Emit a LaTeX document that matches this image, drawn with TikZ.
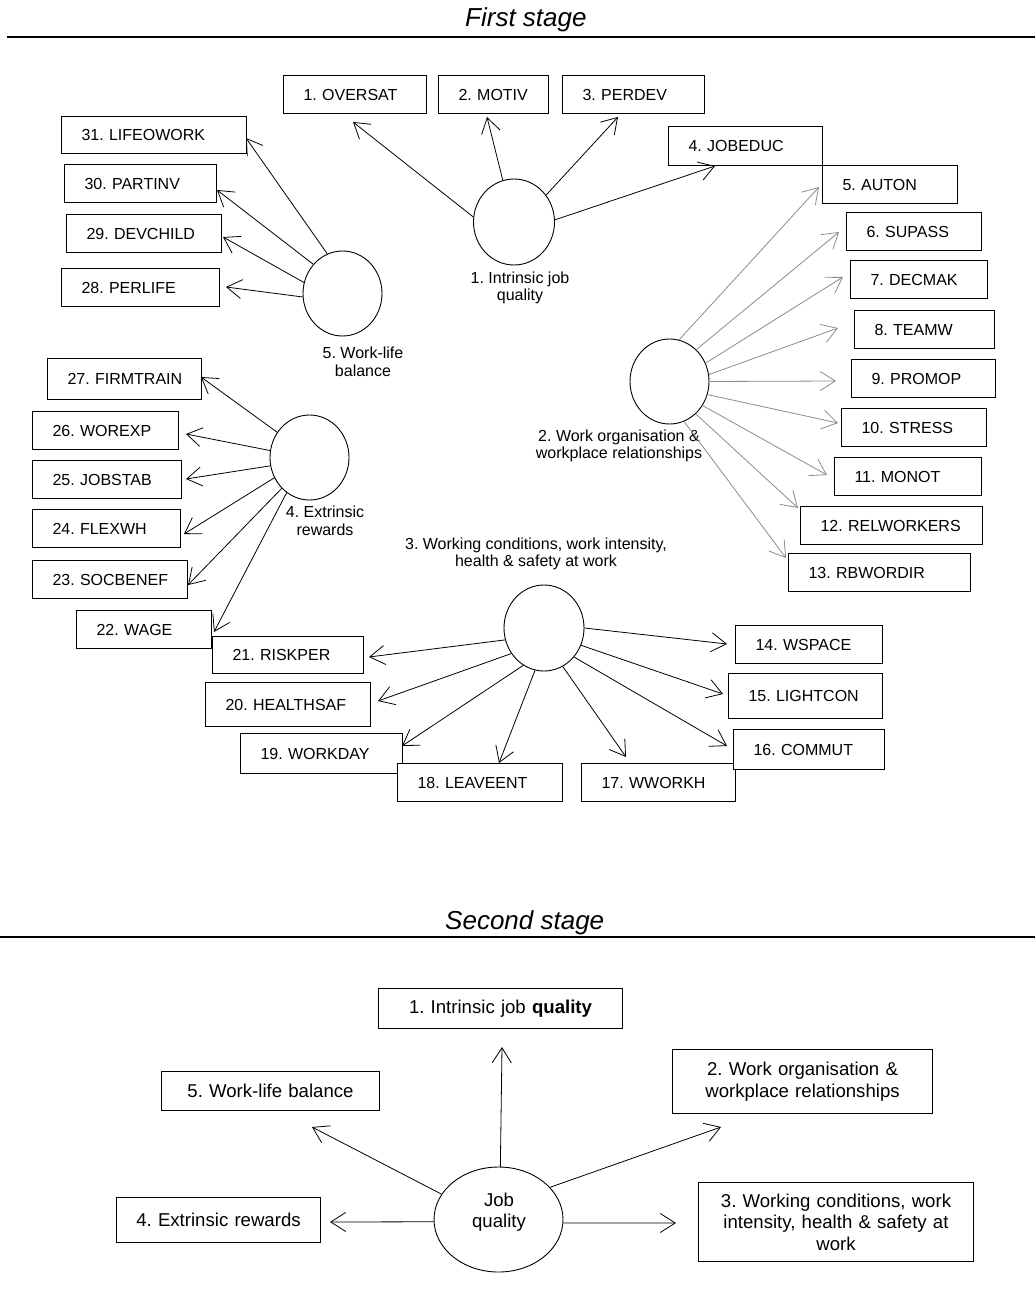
\documentclass[tikz,border=0pt]{standalone}
\usepackage{fontspec}
\setmainfont{Liberation Sans}
\usetikzlibrary{arrows.meta,shapes.geometric}
\newcommand\fsA{\fontsize{16}{17.7}\selectfont}
\newcommand\fsB{\fontsize{18.6}{21.6}\selectfont}
\newcommand\fsT{\fontsize{26}{30}\selectfont\itshape}
% style, padding, name, x1, y1, x2, y2, text
\newcommand\mybox[8]{%
  \pgfmathsetmacro\bw{#6-#4-2*#2}\pgfmathsetmacro\bh{#7-#5}%
  \node[#1, inner xsep=#2pt, text width=\bw pt, minimum height=\bh pt] (#3) at (#4,#5) {#8};}
\begin{document}
\frenchspacing
\begin{tikzpicture}[x=1pt,y=-1pt,
  bx/.style={draw, fill=white, line width=1pt, inner ysep=0pt, align=left, font=\fsA, anchor=north west},
  bxc/.style={draw, fill=white, line width=1pt, inner ysep=0pt, align=center, font=\fsB, anchor=north west},
  fac/.style={draw, ellipse, line width=0.9pt, inner sep=0pt},
  lab/.style={align=center, font=\fsA, inner sep=0pt},
  arr/.style={line width=0.8pt, -{Straight Barb[length=15pt,width=19pt]}},
  garr/.style={arr, draw=black!45},
  ttl/.style={font=\fsT, inner sep=0pt, anchor=base west},
  rule/.style={line width=2.5pt}
]
\fill[white] (0,0) rectangle (1035,1308);
\useasboundingbox (0,0) rectangle (1035,1308);

% ---------------- First stage ----------------
\node[ttl] (ft) at (465,27) {First stage};
\coordinate (fl1) at (7,37); \coordinate (fl2) at (1035,37);
\draw[rule] (fl1) -- (fl2);

% factor circles
\node[fac, minimum width=81pt, minimum height=86pt] (c1) at (514,222) {};
\node[fac, minimum width=79pt, minimum height=85pt] (c2) at (669.5,381.5) {};
\node[fac, minimum width=80pt, minimum height=86pt] (c3) at (544,628) {};
\node[fac, minimum width=79pt, minimum height=85pt] (c4) at (309.5,457.5) {};
\node[fac, minimum width=79pt, minimum height=85pt] (c5) at (342.5,293.5) {};

\node[lab] (l1) at (520,288) {1. Intrinsic job\\quality};
\node[lab] (l2) at (619,446) {2. Work organisation \&\\workplace relationships};
\node[lab] (l3) at (536,554) {3. Working conditions, work intensity,\\health \& safety at work};
\node[lab] (l4) at (325,521) {4. Extrinsic\\rewards};
\node[lab] (l5) at (363,362) {5. Work-life\\balance};

% boxes
\mybox{bx}{20}{b1}{283}{75}{426}{113}{\mbox{1. OVERSAT}}
\mybox{bx}{20}{b2}{438}{75}{548}{113}{\mbox{2. MOTIV}}
\mybox{bx}{20}{b3}{562}{75}{704}{113}{\mbox{3. PERDEV}}
\mybox{bx}{20}{b4}{668}{126}{822}{165}{\mbox{4. JOBEDUC}}
\mybox{bx}{20}{b5}{822}{165}{957}{203}{\mbox{5. AUTON}}
\mybox{bx}{20}{b6}{846}{212}{981}{250}{\mbox{6. SUPASS}}
\mybox{bx}{20}{b7}{850}{260}{987}{298}{\mbox{7. DECMAK}}
\mybox{bx}{20}{b8}{854}{310}{994}{348}{\mbox{8. TEAMW}}
\mybox{bx}{20}{b9}{851}{359}{995}{397}{\mbox{9. PROMOP}}
\mybox{bx}{20}{b10}{841}{408}{986}{446}{\mbox{10. STRESS}}
\mybox{bx}{20}{b11}{834}{457}{981}{495}{\mbox{11. MONOT}}
\mybox{bx}{20}{b12}{800}{506}{982}{544}{\mbox{12. RELWORKERS}}
\mybox{bx}{20}{b13}{788}{553}{970}{591}{\mbox{13. RBWORDIR}}
\mybox{bx}{20}{b14}{735}{625}{882}{663}{\mbox{14. WSPACE}}
\mybox{bx}{20}{b15}{728}{673}{882}{718}{\mbox{15. LIGHTCON}}
\mybox{bx}{20}{b17}{581}{763}{735}{801}{\mbox{17. WWORKH}}
\mybox{bx}{20}{b16}{733}{729}{884}{769}{\mbox{16. COMMUT}}
\mybox{bx}{20}{b19}{240}{733}{402}{773}{\mbox{19. WORKDAY}}
\mybox{bx}{20}{b18}{397}{763}{562}{801}{\mbox{18. LEAVEENT}}
\mybox{bx}{20}{b20}{205}{682}{370}{726}{\mbox{20. HEALTHSAF}}
\mybox{bx}{20}{b21}{212}{636}{363}{673}{\mbox{21. RISKPER}}
\mybox{bx}{20}{b22}{76}{610}{211}{648}{\mbox{22. WAGE}}
\mybox{bx}{20}{b23}{32}{560}{187}{598}{\mbox{23. SOCBENEF}}
\mybox{bx}{20}{b24}{32}{509}{180}{547}{\mbox{24. FLEXWH}}
\mybox{bx}{20}{b25}{32}{460}{181}{498}{\mbox{25. JOBSTAB}}
\mybox{bx}{20}{b26}{32}{411}{178}{449}{\mbox{26. WOREXP}}
\mybox{bx}{20}{b27}{47}{358}{201}{399}{\mbox{27. FIRMTRAIN}}
\mybox{bx}{20}{b28}{61}{268}{219}{306}{\mbox{28. PERLIFE}}
\mybox{bx}{20}{b29}{66}{214}{221}{252}{\mbox{29. DEVCHILD}}
\mybox{bx}{20}{b30}{64}{164}{216}{202}{\mbox{30. PARTINV}}
\mybox{bx}{20}{b31}{61}{116}{246}{153}{\mbox{31. LIFEOWORK}}

% arrow tips (free ends)
\coordinate (t1) at (353,122);  \coordinate (t2) at (487,117);
\coordinate (t3) at (618,117);  \coordinate (t4) at (715,166);
\coordinate (t5) at (819,187);  \coordinate (t6) at (839,232);
\coordinate (t7) at (843,277);  \coordinate (t8) at (838,328);
\coordinate (t9) at (836,381);  \coordinate (t10) at (838,423);
\coordinate (t11) at (827,475); \coordinate (t12) at (798,508);
\coordinate (t13) at (786,558); \coordinate (t14) at (727,644);
\coordinate (t15) at (723,694); \coordinate (t16) at (727,746);
\coordinate (t17) at (626,757); \coordinate (t18) at (499,763);
\coordinate (t19) at (402,746); \coordinate (t20) at (378,701);
\coordinate (t21) at (369,657); \coordinate (t22) at (214,632);
\coordinate (t23) at (188,585); \coordinate (t24) at (184,534);
\coordinate (t25) at (186,479); \coordinate (t26) at (186,434);
\coordinate (t27) at (201,377); \coordinate (t28) at (226,287);
\coordinate (t29) at (223,237); \coordinate (t30) at (217,190);
\coordinate (t31) at (246,138);

% 1. intrinsic job quality
\draw[arr] (c1.173) -- (t1);
\draw[arr] (c1.105) -- (t2);
\draw[arr] (c1.40) -- (t3);
\draw[arr] (c1.3) -- (t4);
% 2. work organisation
\draw[garr] (c2.77) -- (t5);
\draw[garr] (c2.50) -- (t6);
\draw[garr] (c2.27) -- (t7);
\draw[garr] (c2.10) -- (t8);
\draw[garr] (c2.0) -- (t9);
\draw[garr] (c2.-19) -- (t10);
\draw[garr] (c2.-36) -- (t11);
\draw[garr] (c2.-51) -- (t12);
\draw[garr] (c2.-70) -- (t13);
% 3. working conditions
\draw[arr] (c3.0) -- (t14);
\draw[arr] (c3.335) -- (t15);
\draw[arr] (c3.316) -- (t16);
\draw[arr] (c3.296) -- (t17);
\draw[arr] (c3.258) -- (t18);
\draw[arr] (c3.241) -- (t19);
\draw[arr] (c3.218) -- (t20);
\draw[arr] (c3.197) -- (t21);
% 4. extrinsic rewards
\draw[arr] (c4.237) -- (t22);
\draw[arr] (c4.228) -- (t23);
\draw[arr] (c4.210) -- (t24);
\draw[arr] (c4.192) -- (t25);
\draw[arr] (c4.170) -- (t26);
\draw[arr] (c4.142) -- (t27);
% 5. work-life balance
\draw[arr] (c5.185) -- (t28);
\draw[arr] (c5.164) -- (t29);
\draw[arr] (c5.135) -- (t30);
\draw[arr] (c5.111) -- (t31);

% ---------------- Second stage ----------------
\node[ttl] (sst) at (445,929) {Second stage};
\coordinate (sl1) at (0,937); \coordinate (sl2) at (1035,937);
\draw[rule] (sl1) -- (sl2);

\mybox{bxc}{4}{B1}{378}{988}{622}{1028}{1. Intrinsic job \textbf{quality}}
\mybox{bxc}{4}{B2}{672}{1049}{932}{1113}{2. Work organisation \&\\workplace relationships}
\mybox{bxc}{4}{B3}{698}{1182}{973}{1261}{3. Working conditions, work\\intensity, health \& safety at\\work}
\mybox{bxc}{4}{B4}{116}{1197}{320}{1242}{4. Extrinsic rewards}
\mybox{bxc}{4}{B5}{161}{1071}{379}{1110}{5. Work-life balance}

\node[fac, minimum width=129pt, minimum height=105pt] (cj) at (498.5,1219.5) {};
\node[align=center, font=\fsB, inner sep=0pt] (jq) at (499,1212) {Job\\quality};

\coordinate (s1) at (502,1047); \coordinate (s2) at (721,1127);
\coordinate (s3) at (676,1223); \coordinate (s4) at (330,1222);
\coordinate (s5) at (312,1127);
\draw[arr] (cj.88) -- (s1);
\draw[arr] (cj.32) -- (s2);
\draw[arr] (cj.357) -- (s3);
\draw[arr] (cj.182) -- (s4);
\draw[arr] (cj.156) -- (s5);
\end{tikzpicture}
\end{document}
